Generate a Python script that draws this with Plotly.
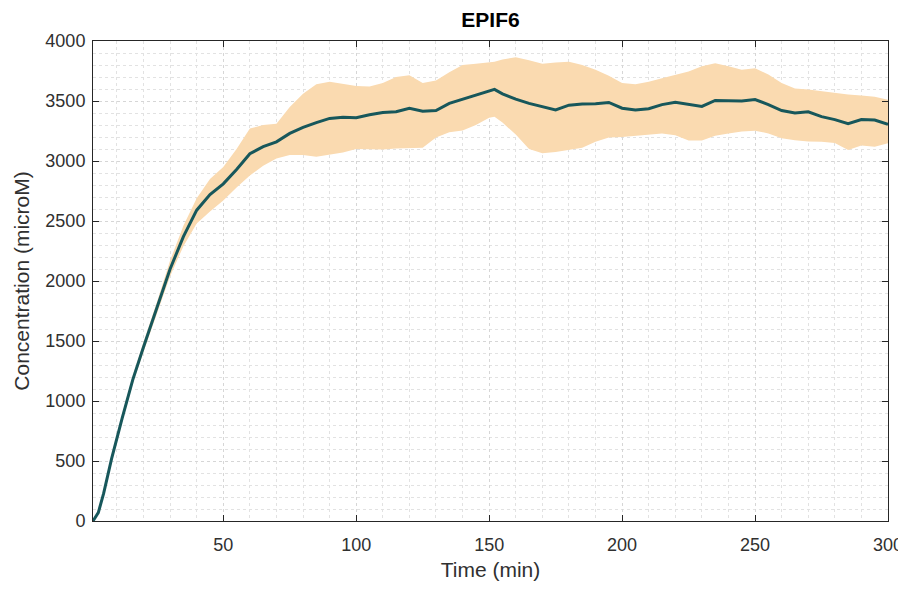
import plotly.graph_objects as go

time_min = [1, 3, 5, 8, 12, 16, 20, 25, 30, 35, 40, 45, 50, 55, 60, 65, 70, 75, 80, 85,
            90, 95, 100, 105, 110, 115, 120, 125, 130, 135, 140, 145, 150, 152, 155, 160,
            165, 170, 175, 180, 185, 190, 195, 200, 205, 210, 215, 220, 225, 230, 235,
            240, 245, 250, 255, 260, 265, 270, 275, 280, 285, 290, 295, 300]

mean_conc = [0, 70, 230, 520, 860, 1180, 1450, 1770, 2100, 2370, 2590, 2720, 2810, 2930,
             3060, 3120, 3160, 3230, 3280, 3320, 3355, 3365, 3360, 3385, 3405, 3410, 3440,
             3415, 3420, 3480, 3515, 3545, 3585, 3597, 3560, 3515, 3480, 3450, 3425, 3465,
             3475, 3478, 3488, 3440, 3425, 3435, 3470, 3490, 3470, 3455, 3505, 3505, 3500,
             3512, 3470, 3420, 3400, 3410, 3370, 3345, 3310, 3345, 3342, 3305]

upper_conc = [0, 85, 250, 550, 890, 1215, 1490, 1820, 2170, 2460, 2690, 2850, 2950, 3100,
              3270, 3300, 3310, 3450, 3560, 3640, 3660, 3640, 3625, 3620, 3650, 3700, 3715,
              3650, 3670, 3740, 3800, 3810, 3820, 3828, 3845, 3865, 3840, 3810, 3820, 3828,
              3800, 3760, 3710, 3650, 3640, 3660, 3690, 3715, 3745, 3790, 3815, 3790, 3760,
              3772, 3720, 3650, 3605, 3595, 3580, 3565, 3555, 3545, 3535, 3510]

lower_conc = [0, 55, 210, 490, 830, 1145, 1410, 1720, 2040, 2290, 2480, 2580, 2670, 2780,
              2880, 2960, 3020, 3050, 3050, 3036, 3050, 3070, 3100, 3095, 3095, 3105, 3106,
              3110, 3195, 3240, 3255, 3300, 3360, 3369, 3320, 3220, 3100, 3064, 3075, 3090,
              3110, 3160, 3195, 3200, 3210, 3225, 3230, 3215, 3170, 3170, 3210, 3230, 3245,
              3253, 3230, 3190, 3172, 3162, 3160, 3150, 3092, 3130, 3119, 3147]

x_ticks = [50, 100, 150, 200, 250, 300]
y_ticks = [0, 500, 1000, 1500, 2000, 2500, 3000, 3500, 4000]

FONT = "Liberation Sans, Arial, sans-serif"

fig = go.Figure()
fig.add_trace(go.Scatter(x=time_min, y=upper_conc, mode="lines",
                         line=dict(width=0, color="rgba(0,0,0,0)"),
                         showlegend=False, hoverinfo="skip"))
fig.add_trace(go.Scatter(x=time_min, y=lower_conc, mode="lines",
                         line=dict(width=0, color="rgba(0,0,0,0)"),
                         fill="tonexty", fillcolor="rgb(250,218,176)",
                         showlegend=False, hoverinfo="skip"))
fig.add_trace(go.Scatter(x=time_min, y=mean_conc, mode="lines",
                         line=dict(width=3, color="#17575b"),
                         showlegend=False))

axis_common = dict(
    showline=True, linecolor="#262626", linewidth=1, mirror="ticks",
    ticks="inside", ticklen=6, tickcolor="#262626",
    showgrid=True, gridcolor="#d6d6d6", griddash="dot", gridwidth=1,
    zeroline=False,
    tickfont=dict(family=FONT, size=18, color="#303030"),
)

fig.update_xaxes(range=[1, 300], tickvals=x_ticks, ticklabelstandoff=7,
                 minor=dict(dtick=10, tick0=0, showgrid=True, gridcolor="#e2e2e2",
                            griddash="dot", ticks=""),
                 title=dict(text="Time (min)", standoff=8,
                            font=dict(family=FONT, size=21, color="#303030")),
                 **axis_common)
fig.update_yaxes(range=[0, 4000], tickvals=y_ticks, ticklabelstandoff=3,
                 minor=dict(dtick=100, tick0=0, showgrid=True, gridcolor="#e2e2e2",
                            griddash="dot", ticks=""),
                 title=dict(text="Concentration (microM)", standoff=10,
                            font=dict(family=FONT, size=21, color="#303030")),
                 **axis_common)

fig.update_layout(
    width=898, height=582,
    margin=dict(l=85, r=18, t=33, b=69, autoexpand=False),
    paper_bgcolor="white", plot_bgcolor="white",
    title=dict(text="<b>EPIF6</b>", x=(85 + 397.5) / 898, xanchor="center",
               y=1 - 12 / 582, yanchor="middle",
               font=dict(family=FONT, size=21, color="black")),
)

fig.write_html("out.html")
